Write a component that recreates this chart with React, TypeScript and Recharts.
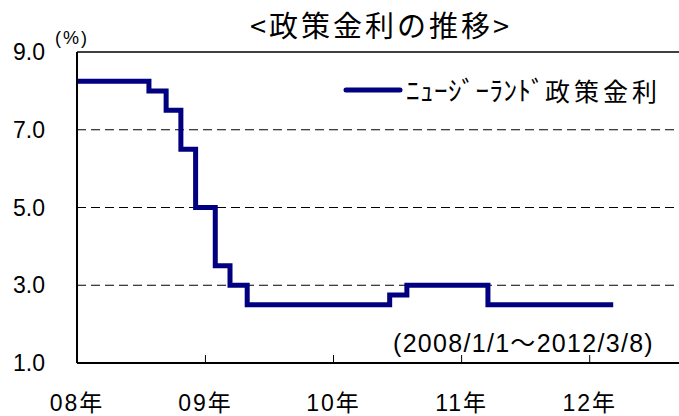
import React from 'react';
import { LineChart, Line, XAxis, YAxis, ReferenceLine } from 'recharts';

// 政策金利の変更日と水準 (%)
const changeDates = [
  '2008-01-01', '2008-07-24', '2008-09-11', '2008-10-23', '2008-12-04',
  '2009-01-29', '2009-03-12', '2009-04-30', '2010-06-10', '2010-07-29',
  '2011-03-17', '2012-03-08'
];
const rates = [8.25, 8.0, 7.5, 6.5, 5.0, 3.5, 3.0, 2.5, 2.75, 3.0, 2.5, 2.5];

const yearTicks = ['2008-01-01', '2009-01-01', '2010-01-01', '2011-01-01', '2012-01-01'];
const yearLabels = ['08年', '09年', '10年', '11年', '12年'];
const yTicks = [1, 3, 5, 7, 9];
const gridValues = [3, 5, 7];
const domainEnd = '2012-09-20';

const seriesKana = 'ﾆｭｰｼﾞｰﾗﾝﾄﾞ';
const seriesKanji = '政策金利';

const toTime = (s: string) => new Date(s + 'T00:00:00Z').getTime();

const data = changeDates.map((d, i) => ({ t: toTime(d), rate: rates[i] }));
const xTicks = yearTicks.map(toTime);

const NUM_FONT = '"Liberation Sans", "Noto Sans CJK JP", sans-serif';
const JP_FONT = '"Noto Sans CJK JP", sans-serif';

function YearTick(props: any) {
  const { x, y, payload, index } = props;
  return (
    <g>
      {index > 0 && <line x1={x} x2={x} y1={y} y2={y - 8} stroke="#000" strokeWidth={1} />}
      <text x={x} y={y + 48} textAnchor="middle" fontSize={23} fontFamily={NUM_FONT} fill="#000" letterSpacing={2}>
        {yearLabels[xTicks.indexOf(payload.value)]}
      </text>
    </g>
  );
}

export default function App() {
  return (
    <div style={{ position: 'absolute', left: 0, top: 0, width: 679, height: 416, overflow: 'hidden', background: '#fff' }}>
      <div style={{ position: 'absolute', left: 250, top: 4, fontFamily: JP_FONT, fontSize: 29, letterSpacing: 3, lineHeight: '40px', whiteSpace: 'nowrap' }}>
        &lt;政策金利の推移&gt;
      </div>
      <div style={{ position: 'absolute', left: 55, top: 27, fontFamily: NUM_FONT, fontSize: 18, letterSpacing: 2, lineHeight: '22px' }}>
        (%)
      </div>
      <LineChart width={682} height={416} data={data} margin={{ top: 52, right: 0, left: 0, bottom: 0 }}>
        <XAxis
          dataKey="t"
          type="number"
          domain={[xTicks[0], toTime(domainEnd)]}
          ticks={xTicks}
          allowDataOverflow
          height={53}
          tickSize={0}
          tickMargin={0}
          tickLine={false}
          axisLine={{ stroke: '#000', strokeWidth: 2 }}
          tick={<YearTick />}
          interval={0}
        />
        <YAxis
          type="number"
          domain={[1, 9]}
          ticks={yTicks}
          width={77}
          tickSize={0}
          tickMargin={32}
          tickLine={false}
          axisLine={{ stroke: '#000', strokeWidth: 2 }}
          tick={{ fontSize: 23, fontFamily: NUM_FONT, fill: '#000' }}
          tickFormatter={(v: number) => v.toFixed(1)}
        />
        {gridValues.map((v) => (
          <ReferenceLine key={v} y={v} stroke="#000" strokeWidth={1} strokeDasharray="9 5" />
        ))}
        <ReferenceLine y={9} stroke="#000" strokeWidth={1.5} />
        <Line
          type="stepAfter"
          dataKey="rate"
          stroke="#000080"
          strokeWidth={5}
          dot={false}
          isAnimationActive={false}
        />
      </LineChart>
      <div style={{ position: 'absolute', left: 343, top: 70, display: 'flex', alignItems: 'center', whiteSpace: 'nowrap' }}>
        <svg width={60} height={10}>
          <line x1={3} x2={57} y1={5} y2={5} stroke="#000080" strokeWidth={5} strokeLinecap="round" />
        </svg>
        <span style={{ fontFamily: JP_FONT, fontSize: 27, letterSpacing: 0.5, marginLeft: 3 }}>{seriesKana}</span>
        <span style={{ fontFamily: JP_FONT, fontSize: 25, letterSpacing: 4 }}>{seriesKanji}</span>
      </div>
      <div style={{ position: 'absolute', left: 393, top: 328, fontFamily: NUM_FONT, fontSize: 25, letterSpacing: 1.3, lineHeight: '30px', whiteSpace: 'nowrap' }}>
        (2008/1/1～2012/3/8)
      </div>
    </div>
  );
}
